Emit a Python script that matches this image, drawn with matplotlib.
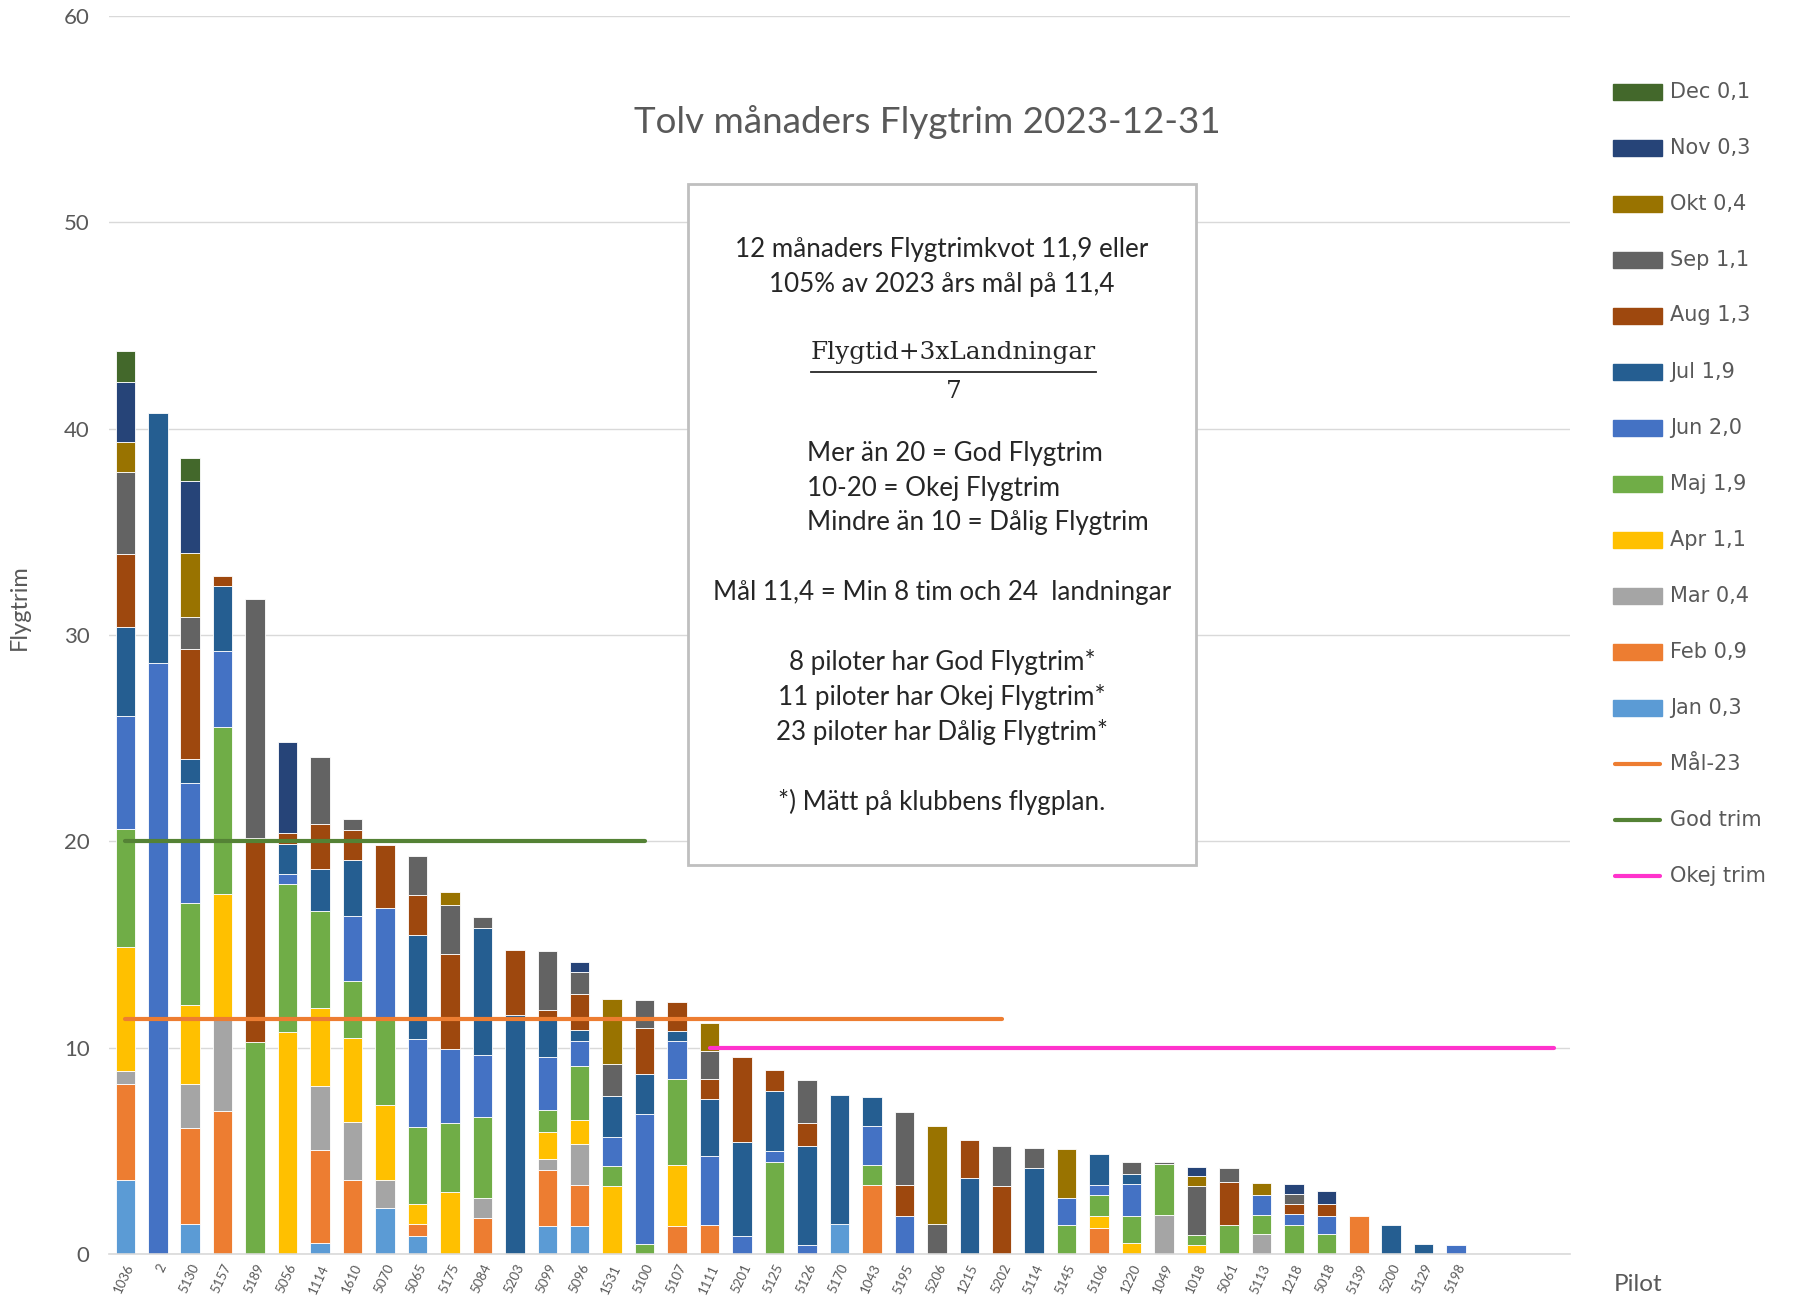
import numpy as np
import matplotlib.pyplot as plt
from matplotlib.patches import Rectangle
from matplotlib.lines import Line2D

# Piloter (x-axeln)
piloter = ['1036', '2', '5130', '5157', '5189', '5056', '1114', '1610', '5070', '5065',
           '5175', '5084', '5203', '5099', '5096', '1531', '5100', '5107', '1111', '5201',
           '5125', '5126', '5170', '1043', '5195', '5206', '1215', '5202', '5114', '5145',
           '5106', '1220', '1049', '1018', '5061', '5113', '1218', '5018', '5139', '5200',
           '5129', '5198']
tomma_platser = 3  # tre tomma kategorier i slutet

# Flygtrim per månad och pilot
jan = [3.6, 0, 1.44, 0, 0, 0, 0.55, 0, 2.21, 0.88,
       0, 0, 0, 1.34, 1.34, 0, 0, 0, 0, 0,
       0, 0, 1.47, 0, 0, 0, 0, 0, 0, 0,
       0, 0, 0, 0, 0, 0, 0, 0, 0, 0,
       0, 0]
feb = [4.65, 0, 4.65, 6.95, 0, 0, 4.48, 3.6, 0, 0.57,
       0, 1.74, 0, 2.72, 1.98, 0, 0, 1.34, 1.39, 0,
       0, 0, 0, 3.34, 0, 0, 0, 0, 0, 0,
       1.28, 0, 0, 0, 0, 0, 0, 0, 1.82, 0,
       0, 0]
mar = [0.6, 0, 2.16, 4.54, 0, 0, 3.13, 2.78, 1.39, 0,
       0, 0.97, 0, 0.54, 2.0, 0, 0, 0, 0, 0,
       0, 0, 0, 0, 0, 0, 0, 0, 0, 0,
       0, 0, 1.88, 0, 0, 0.97, 0, 0, 0, 0,
       0, 0]
apr = [6.05, 0, 3.82, 5.95, 0, 10.75, 3.74, 4.1, 3.64, 0.95,
       3.0, 0, 0, 1.32, 1.15, 3.27, 0, 2.95, 0, 0,
       0, 0, 0, 0, 0, 0, 0, 0, 0, 0,
       0.55, 0.55, 0, 0.42, 0, 0, 0, 0, 0, 0,
       0, 0]
maj = [5.7, 0, 4.94, 8.08, 10.26, 7.18, 4.74, 2.73, 4.21, 3.74,
       3.36, 3.93, 0, 1.04, 2.66, 0.97, 0.49, 4.17, 0, 0,
       4.47, 0, 0, 0.95, 0, 0, 0, 0, 0, 1.39,
       1.02, 1.28, 2.5, 0.49, 1.39, 0.91, 1.39, 0.97, 0, 0,
       0, 0]
jun = [5.45, 28.65, 5.81, 3.7, 0, 0.49, 0, 3.17, 5.34, 4.26,
       3.59, 3.0, 0, 2.59, 1.19, 1.44, 6.27, 1.86, 3.38, 0.89,
       0.51, 0.44, 0, 1.89, 1.83, 0, 0, 0, 0, 1.33,
       0.49, 1.56, 0, 0, 0, 0.96, 0.55, 0.89, 0, 0,
       0, 0.42]
jul = [4.35, 12.1, 1.17, 3.17, 0, 1.47, 2.04, 2.72, 0, 5.05,
       0, 6.15, 11.6, 1.94, 0.55, 1.99, 1.95, 0.49, 2.72, 4.55,
       2.9, 4.81, 6.21, 1.44, 0, 0, 3.7, 0, 4.18, 0,
       1.51, 0.5, 0, 0, 0, 0, 0, 0, 0, 1.41,
       0.49, 0]
aug = [3.5, 0, 5.35, 0.48, 9.91, 0.51, 2.15, 1.47, 3.04, 1.93,
       4.6, 0, 3.11, 0.35, 1.72, 0, 2.23, 1.39, 0.97, 4.11,
       1.02, 1.1, 0, 0, 1.51, 0, 1.81, 3.29, 0, 0,
       0, 0, 0, 0, 2.11, 0, 0.49, 0.57, 0, 0,
       0, 0]
sep = [4.0, 0, 1.55, 0, 11.55, 0, 3.25, 0.53, 0, 1.91,
       2.38, 0.54, 0, 2.85, 1.07, 1.52, 1.37, 0, 1.39, 0,
       0, 2.06, 0, 0, 3.56, 1.47, 0, 1.96, 0.97, 0,
       0, 0.58, 0.06, 2.36, 0.68, 0, 0.49, 0, 0, 0,
       0, 0]
okt = [1.45, 0, 3.08, 0, 0, 0, 0, 0, 0, 0,
       0.59, 0, 0, 0, 0, 3.19, 0, 0, 1.32, 0,
       0, 0, 0, 0, 0, 4.71, 0, 0, 0, 2.37,
       0, 0, 0, 0.49, 0, 0.61, 0, 0, 0, 0,
       0, 0]
nov = [2.9, 0, 3.5, 0, 0, 4.4, 0, 0, 0, 0,
       0, 0, 0, 0, 0.47, 0, 0, 0, 0, 0,
       0, 0, 0, 0, 0, 0, 0, 0, 0, 0,
       0, 0, 0, 0.47, 0, 0, 0.48, 0.6, 0, 0,
       0, 0]
dec = [1.5, 0, 1.12, 0, 0, 0, 0, 0, 0, 0,
       0, 0, 0, 0, 0, 0, 0, 0, 0, 0,
       0, 0, 0, 0, 0, 0, 0, 0, 0, 0,
       0, 0, 0, 0, 0, 0, 0, 0, 0, 0,
       0, 0]

manader = ['Jan 0,3', 'Feb 0,9', 'Mar 0,4', 'Apr 1,1', 'Maj 1,9', 'Jun 2,0',
           'Jul 1,9', 'Aug 1,3', 'Sep 1,1', 'Okt 0,4', 'Nov 0,3', 'Dec 0,1']
varden = [jan, feb, mar, apr, maj, jun, jul, aug, sep, okt, nov, dec]
farger = ['#5B9BD5', '#ED7D31', '#A5A5A5', '#FFC000', '#70AD47', '#4472C4',
          '#255E91', '#9E480E', '#636363', '#997300', '#264478', '#43682B']

# Gränslinjer: (namn, nivå, från pilot-index, till index, färg)
linjer = [('Mål-23', 11.4, 0, 27, '#ED7D31'),
          ('God trim', 20, 0, 16, '#548235'),
          ('Okej trim', 10, 18, 44, '#FF33CC')]

plt.rcParams['font.family'] = ['Lato', 'DejaVu Sans']
grå = '#595959'

fig = plt.figure(figsize=(17.94, 12.97), dpi=100)
ax = fig.add_axes([0.0608, 0.0332, 0.8142, 0.9545])

x = np.arange(len(piloter))
bottom = np.zeros(len(piloter))
for färg, v in zip(farger, varden):
    v = np.array(v)
    m = v > 0
    ax.bar(x[m], v[m], 0.6, bottom=bottom[m], color=färg, edgecolor='white', linewidth=0.6, zorder=2)
    bottom += v

for namn, niva, fran, till, färg in linjer:
    ax.plot([fran, till], [niva, niva], color=färg, lw=3, solid_capstyle='round', zorder=3)

antal = len(piloter) + tomma_platser
ax.set_xlim(-0.5, antal - 0.5)
ax.set_ylim(0, 60)
ax.set_yticks(range(0, 61, 10))
ax.grid(axis='y', color='#D9D9D9', lw=1)
ax.set_axisbelow(True)
for s in ['top', 'right', 'left']:
    ax.spines[s].set_visible(False)
ax.spines['bottom'].set_color('#D9D9D9')
ax.spines['bottom'].set_linewidth(1.2)

ax.set_xticks(x)
ax.set_xticklabels(piloter, rotation=65, ha='right', va='top', rotation_mode='anchor',
                   fontsize=9.5, color=grå)
ax.tick_params(axis='x', length=0, pad=6)
ax.tick_params(axis='y', length=0, pad=14, labelsize=16, labelcolor=grå)

fig.text(0.011, 0.532, 'Flygtrim', rotation=90, ha='center', va='center', fontsize=17, color=grå)
fig.text(0.913, 0.0095, 'Pilot', ha='center', va='center', fontsize=17.5, color=grå)

fig.text(0.517, 0.906, 'Tolv månaders Flygtrim 2023-12-31', ha='center', va='center',
         fontsize=26.5, color=grå)

# Textrutan
fig.patches.append(Rectangle((0.3835, 0.3331), 0.2832, 0.525, transform=fig.transFigure,
                             facecolor='white', edgecolor='#BFBFBF', lw=2, zorder=5))
mitt = 0.525
svart = '#262626'
fs = 18.7
rader = [('12 månaders Flygtrimkvot 11,9 eller', 0.8077),
         ('105% av 2023 års mål på 11,4', 0.7803),
         ('Mål 11,4 = Min 8 tim och 24  landningar', 0.5431),
         ('8 piloter har God Flygtrim*', 0.4893),
         ('11 piloter har Okej Flygtrim*', 0.4628),
         ('23 piloter har Dålig Flygtrim*', 0.4355),
         ('*) Mätt på klubbens flygplan.', 0.3816)]
for t, y in rader:
    fig.text(mitt, y, t, ha='center', va='center', fontsize=fs, color=svart, zorder=6)
for t, y in [('Mer än 20 = God Flygtrim', 0.6507),
             ('10-20 = Okej Flygtrim', 0.6234),
             ('Mindre än 10 = Dålig Flygtrim', 0.5969)]:
    fig.text(0.4496, y, t, ha='left', va='center', fontsize=fs, color=svart, zorder=6)
fig.text(0.5315, 0.7283, 'Flygtid+3xLandningar', ha='center', va='center', fontsize=17.8,
         family='DejaVu Serif', color=svart, zorder=6)
fig.text(0.5315, 0.6983, '7', ha='center', va='center', fontsize=17.8,
         family='DejaVu Serif', color=svart, zorder=6)
fig.lines.append(Line2D([0.452, 0.611], [0.7133, 0.7133], transform=fig.transFigure,
                        color=svart, lw=1.3, zorder=6))

# Legend till höger
poster = [(m, f, 'bar') for m, f in zip(manader[::-1], farger[::-1])]
poster += [(n, f, 'line') for n, niva, a, b, f in linjer]
for i, (namn, färg, typ) in enumerate(poster):
    yc = 1 - (91.5 + i * 56.0) / 1297
    if typ == 'bar':
        fig.patches.append(Rectangle((1613 / 1794, yc - 8 / 1297), 49 / 1794, 16 / 1297,
                                     transform=fig.transFigure, color=färg))
    else:
        fig.lines.append(Line2D([1615 / 1794, 1660 / 1794], [yc, yc], transform=fig.transFigure,
                                color=färg, lw=3, solid_capstyle='round'))
    fig.text(1670 / 1794, yc, namn, ha='left', va='center', fontsize=15,
             family='DejaVu Sans', color=grå)

plt.savefig('out.png', dpi=100)
